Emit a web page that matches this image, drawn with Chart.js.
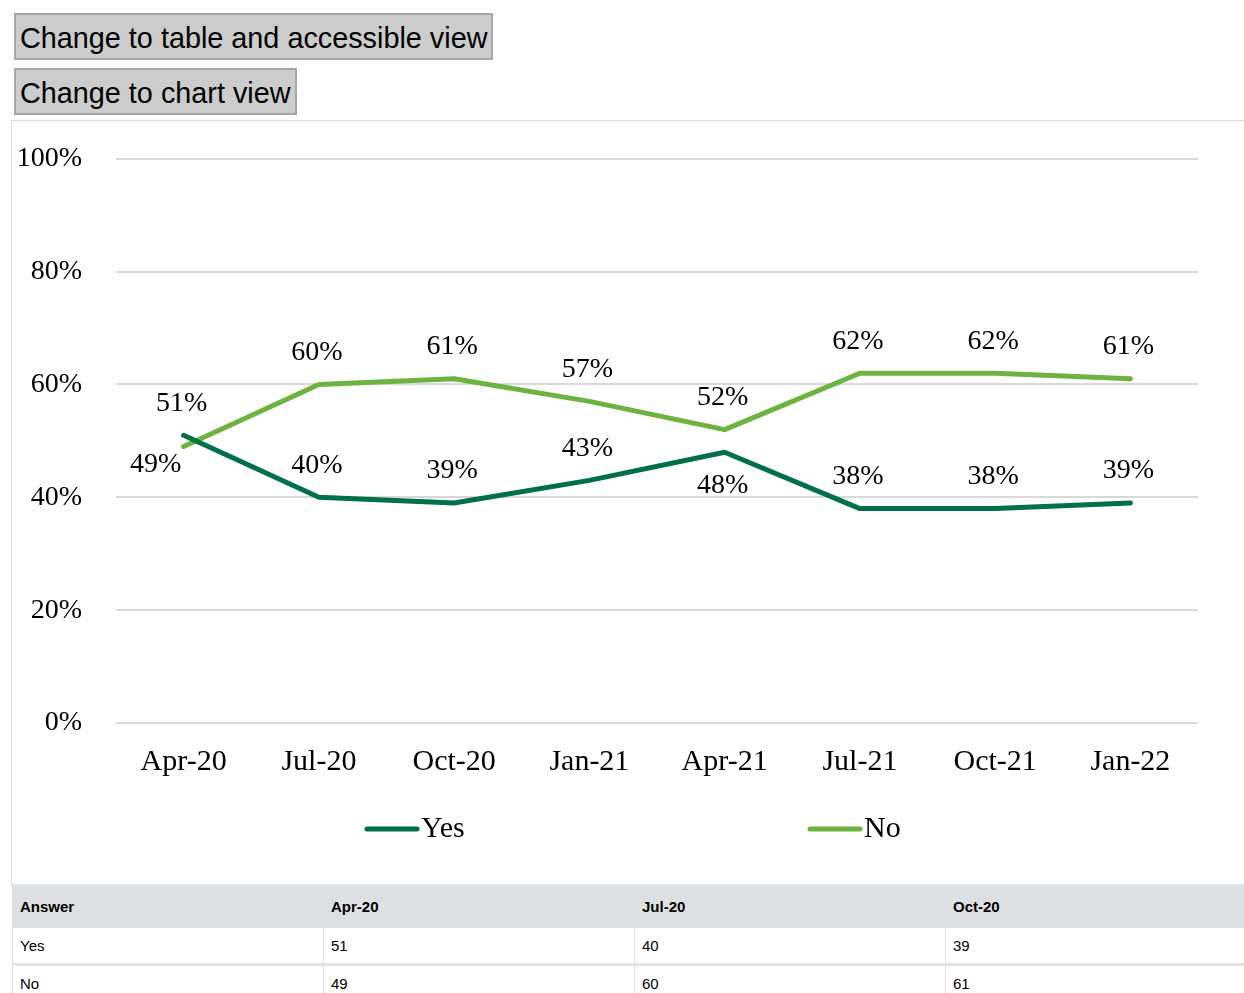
<!DOCTYPE html>
<html>
<head>
<meta charset="utf-8">
<script src="https://cdn.jsdelivr.net/npm/chart.js@4.4.1/dist/chart.umd.min.js"></script>
<style>
  html, body { margin: 0; padding: 0; background: #fff; overflow: hidden; width: 1244px; height: 993px; }
  .btn { position: absolute; left: 14px; height: 47px; box-sizing: border-box; background: #cccccc; border: 2px solid #a6a6a6;
         font-family: "Liberation Sans", Arial, sans-serif; font-size: 28.8px; color: #000; padding: 0 4px; line-height: 46px; white-space: nowrap; }
  #b1 { top: 13px; }
  #b2 { top: 68px; }
  #wrap { position: absolute; left: 11px; top: 120px; width: 1260px; height: 765px; box-sizing: border-box;
          border: 1px solid #dcdcdc; border-right: none; border-bottom: none; }
  #c { position: absolute; left: 0; top: -13px; }
  table { position: absolute; left: 12px; top: 884px; border-collapse: collapse; table-layout: fixed; width: 2799px;
          font-family: "Liberation Sans", Arial, sans-serif; font-size: 15px; color: #000; }
  td, th { width: 303px; padding: 0 0 0 7px; text-align: left; border: 1px solid #e0e0e0; border-top: none; }
  th { background: #dde0e3; font-weight: bold; height: 42px; border-color: #dde0e3; border-top: 1px solid #e6e6e6; }
  td { height: 35px; }
  tr.r2 td { border-top: 3px solid #e3e3e3; }
</style>
</head>
<body>
<div class="btn" id="b1">Change to table and accessible view</div>
<div class="btn" id="b2">Change to chart view</div>
<div id="wrap"><canvas id="c" width="1232" height="776"></canvas></div>
<table id="t"></table>
<script>
const categories = ["Apr-20", "Jul-20", "Oct-20", "Jan-21", "Apr-21", "Jul-21", "Oct-21", "Jan-22"];
const yesValues = [51, 40, 39, 43, 48, 38, 38, 39];
const noValues  = [49, 60, 61, 57, 52, 62, 62, 61];
const yTicks = [0, 20, 40, 60, 80, 100];
const seriesNames = ["Yes", "No"];
const tableHeader = "Answer";

// label placement (style)
const yesLabelPos = ["above", "above", "above", "above", "below", "above", "above", "above"];
const noLabelPos  = ["left", "above", "above", "above", "above", "above", "above", "above"];

const YES_COLOR = "#00704a";
const NO_COLOR = "#6db33f";
const SERIF = "'Liberation Serif', 'Times New Roman', serif";

// table
(function () {
  const t = document.getElementById('t');
  let h = '<tr><th>' + tableHeader + '</th>' + categories.map(c => '<th>' + c + '</th>').join('') + '</tr>';
  h += '<tr><td>' + seriesNames[0] + '</td>' + yesValues.map(v => '<td>' + v + '</td>').join('') + '</tr>';
  h += '<tr class="r2"><td>' + seriesNames[1] + '</td>' + noValues.map(v => '<td>' + v + '</td>').join('') + '</tr>';
  t.innerHTML = h;
})();

const labelPlugin = {
  id: 'pctLabels',
  afterDatasetsDraw(chart) {
    const ctx = chart.ctx;
    ctx.save();
    ctx.font = '28px ' + SERIF;
    ctx.fillStyle = '#000';
    ctx.textAlign = 'center';
    ctx.textBaseline = 'middle';
    chart.data.datasets.forEach((ds, di) => {
      const meta = chart.getDatasetMeta(di);
      meta.data.forEach((pt, i) => {
        const pos = ds.labelPos[i];
        let dx = -2, dy = -32;
        if (pos === 'below') { dy = 33; }
        if (pos === 'left') { dx = -28; dy = 18; }
        ctx.fillText(ds.data[i] + '%', pt.x + dx, pt.y + dy);
      });
    });
    ctx.restore();
  }
};

const legendPlugin = {
  id: 'customLegend',
  afterDraw(chart) {
    const ctx = chart.ctx;
    const a = chart.chartArea;
    const y = a.bottom + 106;
    const starts = [a.left + 251, a.left + 694];
    ctx.save();
    ctx.font = '30px ' + SERIF;
    ctx.textBaseline = 'middle';
    ctx.textAlign = 'left';
    chart.data.datasets.forEach((ds, i) => {
      const x = starts[i];
      ctx.strokeStyle = ds.borderColor;
      ctx.lineWidth = 5;
      ctx.lineCap = 'round';
      ctx.beginPath();
      ctx.moveTo(x, y);
      ctx.lineTo(x + 50, y);
      ctx.stroke();
      ctx.fillStyle = '#000';
      ctx.fillText(ds.label, x + 54, y);
    });
    ctx.restore();
  }
};

new Chart(document.getElementById('c'), {
  type: 'line',
  data: {
    labels: categories,
    datasets: [
      { label: seriesNames[0], data: yesValues, labelPos: yesLabelPos, borderColor: YES_COLOR, backgroundColor: YES_COLOR,
        borderWidth: 5, pointRadius: 0, tension: 0, borderCapStyle: 'round', borderJoinStyle: 'round' },
      { label: seriesNames[1], data: noValues, labelPos: noLabelPos, borderColor: NO_COLOR, backgroundColor: NO_COLOR,
        borderWidth: 5, pointRadius: 0, tension: 0, borderCapStyle: 'round', borderJoinStyle: 'round' }
    ]
  },
  options: {
    responsive: false,
    animation: false,
    layout: { padding: { left: 0, top: 24, right: 46, bottom: 101 } },
    plugins: { legend: { display: false }, tooltip: { enabled: false } },
    scales: {
      x: {
        offset: true,
        grid: { display: false, drawTicks: false },
        border: { display: false },
        ticks: { font: { family: SERIF, size: 30 }, color: '#000', padding: 21, maxRotation: 0 },
        afterFit(s) { s.height = 60; }
      },
      y: {
        min: 0, max: 100,
        afterBuildTicks(s) { s.ticks = yTicks.map(v => ({ value: v })); },
        grid: { color: '#d9d9d9', lineWidth: 2, drawTicks: false },
        border: { display: false },
        ticks: { font: { family: SERIF, size: 28 }, color: '#000', padding: 34, callback: v => v + '%' },
        afterFit(s) { s.width = 104; }
      }
    }
  },
  plugins: [labelPlugin, legendPlugin]
});
</script>
</body>
</html>
